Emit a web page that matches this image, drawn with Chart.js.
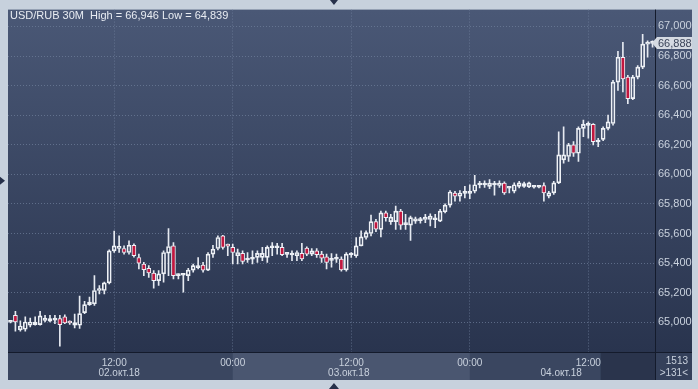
<!DOCTYPE html>
<html lang="ru">
<head>
<meta charset="UTF-8">
<title>USD/RUB 30M</title>
<style>
  html, body { margin: 0; padding: 0; background: #c7d1dd; }
  #wrap { width: 698px; height: 389px; }
</style>
</head>
<body>
<div id="wrap"><canvas id="chart" width="698" height="389"></canvas></div>

<script src="https://cdn.jsdelivr.net/npm/chart.js@4"></script>
<script>
// ---- data (30 min candles, first one 02.10.18 01:30) ----
const symbol = 'USD/RUB 30M';
const dates = ['02.окт.18', '03.окт.18', '04.окт.18'];
const firstCandleMinutes = 90;   // 01:30 on the first day
const stepMinutes = 30;
const barsTotal = '1513';

const open = [
  65000, 65047, 64949, 64953, 64980, 64984, 64984, 65013, 65007, 65015,
  65025, 65036, 65000, 64980, 64980, 65065, 65119, 65125, 65215, 65215,
  65266, 65483, 65500, 65499, 65472, 65521, 65438, 65394, 65365, 65333,
  65282, 65327, 65468, 65517, 65315, 65318, 65315, 65353, 65370, 65387,
  65353, 65461, 65499, 65584, 65517, 65506, 65450, 65466, 65421, 65426,
  65439, 65439, 65439, 65504, 65504, 65506, 65459, 65455, 65450, 65466,
  65501, 65461, 65483, 65461, 65443, 65419, 65426, 65428, 65354, 65455,
  65450, 65517, 65573, 65600, 65680, 65628, 65740, 65680, 65680, 65751,
  65660, 65657, 65684, 65687, 65695, 65695, 65693, 65684, 65747, 65792,
  65874, 65852, 65872, 65872, 65886, 65928, 65928, 65919, 65928, 65926,
  65941, 65906, 65886, 65919, 65919, 65915, 65913, 65913, 65924, 65852,
  65875, 65942, 66098, 66121, 66199, 66143, 66311, 66331, 66338, 66219,
  66237, 66311, 66344, 66624, 66792, 66657, 66512, 66657, 66725, 66881,
  66886
];
const high = [
  65010, 65074, 65010, 65036, 65029, 65036, 65074, 65047, 65047, 65047,
  65047, 65050, 65010, 65056, 65177, 65141, 65170, 65315, 65248, 65271,
  65490, 65617, 65584, 65517, 65550, 65530, 65461, 65405, 65383, 65349,
  65349, 65483, 65633, 65539, 65327, 65327, 65365, 65394, 65438, 65405,
  65472, 65521, 65584, 65588, 65528, 65528, 65495, 65483, 65472, 65483,
  65483, 65506, 65517, 65539, 65533, 65533, 65472, 65483, 65483, 65533,
  65510, 65499, 65499, 65479, 65461, 65465, 65461, 65443, 65472, 65472,
  65573, 65618, 65618, 65725, 65696, 65751, 65751, 65729, 65785, 65763,
  65729, 65718, 65711, 65710, 65729, 65733, 65729, 65763, 65800, 65890,
  65885, 65890, 65919, 65930, 65993, 65953, 65957, 65964, 65953, 65957,
  65950, 65919, 65942, 65953, 65948, 65948, 65926, 65922, 65942, 65886,
  65953, 66288, 66322, 66210, 66221, 66322, 66367, 66355, 66344, 66244,
  66322, 66400, 66635, 66832, 66892, 66669, 66669, 66736, 66946, 66903,
  66903
];
const low = [
  64995, 64940, 64940, 64940, 64969, 64980, 64980, 65002, 65002, 64991,
  64839, 64990, 64985, 64962, 64958, 65058, 65114, 65114, 65192, 65192,
  65260, 65472, 65472, 65461, 65461, 65440, 65360, 65315, 65304, 65230,
  65249, 65271, 65315, 65293, 65293, 65204, 65282, 65338, 65360, 65338,
  65349, 65438, 65490, 65494, 65450, 65394, 65394, 65394, 65405, 65394,
  65405, 65416, 65405, 65450, 65461, 65450, 65439, 65416, 65416, 65416,
  65450, 65450, 65439, 65405, 65360, 65372, 65405, 65345, 65345, 65439,
  65439, 65517, 65562, 65584, 65613, 65577, 65684, 65662, 65628, 65628,
  65628, 65554, 65668, 65670, 65673, 65651, 65640, 65680, 65740, 65778,
  65818, 65818, 65841, 65836, 65874, 65908, 65912, 65903, 65859, 65912,
  65864, 65875, 65875, 65908, 65912, 65910, 65906, 65908, 65819, 65841,
  65864, 65937, 66076, 66087, 66121, 66087, 66255, 66244, 66199, 66188,
  66228, 66300, 66333, 66568, 66557, 66478, 66505, 66646, 66714, 66792,
  66860
];
const close = [
  65005, 65002, 64975, 65002, 65002, 65002, 65043, 65029, 65025, 65018,
  64984, 64995, 64995, 64998, 65058, 65119, 65137, 65215, 65226, 65266,
  65483, 65517, 65510, 65472, 65521, 65450, 65400, 65356, 65333, 65282,
  65327, 65472, 65512, 65315, 65320, 65320, 65353, 65383, 65372, 65353,
  65461, 65494, 65573, 65506, 65515, 65472, 65472, 65412, 65424, 65428,
  65466, 65466, 65506, 65506, 65506, 65457, 65461, 65457, 65472, 65428,
  65461, 65483, 65457, 65434, 65405, 65421, 65428, 65354, 65461, 65457,
  65517, 65577, 65606, 65680, 65629, 65740, 65707, 65711, 65751, 65657,
  65662, 65707, 65700, 65689, 65711, 65718, 65695, 65751, 65792, 65881,
  65852, 65874, 65874, 65874, 65930, 65930, 65930, 65941, 65930, 65941,
  65874, 65908, 65930, 65942, 65937, 65942, 65915, 65915, 65875, 65875,
  65942, 66132, 66132, 66199, 66143, 66311, 66338, 66333, 66221, 66221,
  66311, 66355, 66624, 66792, 66646, 66512, 66657, 66725, 66881, 66888,
  66888
];

// y axis: 65,000 .. 67,000 every 200
const yTickMin = 65000;
const yTickMax = 67000;
const yTickStep = 200;

// ---- derived ----
const pad2 = n => String(n).padStart(2, '0');
const labels = open.map((_, i) => {
  const m = firstCandleMinutes + i * stepMinutes;
  return pad2(Math.floor(m / 60) % 24) + ':' + pad2(m % 60);
});
const dayOf = i => Math.floor((firstCandleMinutes + i * stepMinutes) / 1440);
const isMajor = i => labels[i] === '12:00' || labels[i] === '00:00';
const fmt = v => v.toLocaleString('en-US');

const bodies = open.map((o, i) => [Math.min(o, close[i]), Math.max(o, close[i])]);
const wickUp = open.map((o, i) => [Math.max(o, close[i]), high[i]]);
const wickDown = open.map((o, i) => [low[i], Math.min(o, close[i])]);
const bodyFill = open.map((o, i) => close[i] < o ? '#c2173f' : 'rgba(0,0,0,0)');

const hiAll = Math.max(...high);
const loAll = Math.min(...low);
const last = close[close.length - 1];

const txt = '#c9d1dd';
const grid = 'rgba(112,128,156,0.7)';
const font = 'Liberation Sans';

const panels = {
  id: 'panels',
  beforeDraw(chart) {
    const { ctx, chartArea: a, scales: { x, y } } = chart;
    ctx.save();
    ctx.fillStyle = '#c7d1dd';
    ctx.fillRect(0, 0, chart.width, chart.height);

    const g = ctx.createLinearGradient(0, a.top, 0, a.bottom);
    g.addColorStop(0, '#4a5876');
    g.addColorStop(1, '#29344e');
    ctx.fillStyle = g;
    ctx.fillRect(a.left, a.top, y.right - a.left, a.bottom - a.top);

    // time strip
    ctx.fillStyle = '#3a4660';
    ctx.fillRect(a.left, x.top, a.right - a.left, x.bottom - x.top);
    const d0 = x.getPixelForValue(labels.indexOf('00:00'));
    const d1 = x.getPixelForValue(labels.indexOf('00:00', labels.indexOf('00:00') + 1));
    ctx.fillStyle = '#4a5670';
    ctx.fillRect(d0, x.top, d1 - d0, x.bottom - x.top);
    const s0 = x.getPixelForValue(119.5);
    ctx.fillStyle = '#2a344c';
    ctx.fillRect(s0, x.top, a.right - s0, x.bottom - x.top);
    ctx.fillStyle = '#34405a';
    ctx.fillRect(a.right, x.top, y.right - a.right, x.bottom - x.top);
    ctx.restore();
  },
  afterDraw(chart) {
    const { ctx, chartArea: a, scales: { x, y } } = chart;
    ctx.save();
    // frame lines
    ctx.strokeStyle = '#141b2c';
    ctx.lineWidth = 1;
    ctx.beginPath();
    ctx.moveTo(Math.round(a.right) + 0.5, a.top);
    ctx.lineTo(Math.round(a.right) + 0.5, x.bottom);
    ctx.moveTo(a.left, Math.round(a.bottom) + 0.5);
    ctx.lineTo(y.right, Math.round(a.bottom) + 0.5);
    ctx.stroke();

    // title
    ctx.fillStyle = '#e8ecf2';
    ctx.font = '11px "' + font + '"';
    ctx.textBaseline = 'middle';
    ctx.textAlign = 'left';
    ctx.fillText(symbol + '  High = ' + fmt(hiAll) + ' Low = ' + fmt(loAll), a.left + 2, a.top + 6);

    // date under each day, centred on the visible part of that day
    ctx.fillStyle = txt;
    ctx.font = '10px "' + font + '"';
    ctx.textAlign = 'center';
    dates.forEach((d, k) => {
      const idx = labels.map((_, i) => i).filter(i => dayOf(i) === k);
      if (!idx.length) return;
      const l = Math.max(a.left, x.getPixelForValue(idx[0] - 0.5));
      const r = Math.min(a.right, x.getPixelForValue(idx[idx.length - 1] + 0.5));
      ctx.fillText(d, (l + r) / 2, x.top + 21);
    });

    // last price marker
    const py = Math.round(y.getPixelForValue(last));
    const bx = Math.round(a.right) + 2;
    ctx.fillStyle = '#d5dae2';
    ctx.beginPath();
    ctx.moveTo(bx - 5, py);
    ctx.lineTo(bx, py - 6);
    ctx.lineTo(y.right, py - 6);
    ctx.lineTo(y.right, py + 6);
    ctx.lineTo(bx, py + 6);
    ctx.closePath();
    ctx.fill();
    ctx.fillStyle = '#3b4459';
    ctx.font = '11px "' + font + '"';
    ctx.textAlign = 'left';
    ctx.fillText(fmt(last), bx + 1, py + 1);

    // counters in the corner
    ctx.fillStyle = txt;
    ctx.font = '10px "' + font + '"';
    ctx.textAlign = 'right';
    ctx.fillText(barsTotal, y.right - 4, x.top + 9);
    ctx.fillText('>' + open.length + '<', y.right - 4, x.top + 21);

    // scroll markers
    ctx.fillStyle = '#26304a';
    const cx = x.getPixelForValue(labels.length / 2);
    ctx.beginPath();
    ctx.moveTo(cx - 4, 0); ctx.lineTo(cx + 4, 0); ctx.lineTo(cx, 5); ctx.closePath();
    ctx.moveTo(cx - 5, chart.height); ctx.lineTo(cx + 5, chart.height); ctx.lineTo(cx, chart.height - 6); ctx.closePath();
    const my = (a.top + a.bottom) / 2;
    ctx.moveTo(0, my - 4); ctx.lineTo(0, my + 4); ctx.lineTo(5, my); ctx.closePath();
    ctx.fill();
    ctx.restore();
  }
};

new Chart(document.getElementById('chart'), {
  type: 'bar',
  data: {
    labels: labels,
    datasets: [
      {
        label: 'body',
        data: bodies,
        backgroundColor: bodyFill,
        borderColor: '#eef1f6',
        borderWidth: 1,
        borderSkipped: false,
        barThickness: 4,
        minBarLength: 2,
        grouped: false
      },
      {
        label: 'wick up',
        data: wickUp,
        backgroundColor: '#e6eaf1',
        borderWidth: 0,
        barThickness: 1,
        grouped: false
      },
      {
        label: 'wick down',
        data: wickDown,
        backgroundColor: '#e6eaf1',
        borderWidth: 0,
        barThickness: 1,
        grouped: false
      }
    ]
  },
  options: {
    responsive: false,
    animation: false,
    devicePixelRatio: 1,
    layout: { padding: { left: 8, top: 7, right: 6, bottom: 9 } },
    plugins: { legend: { display: false }, tooltip: { enabled: false } },
    scales: {
      x: {
        offset: true,
        grid: {
          offset: false,
          drawTicks: false,
          color: c => isMajor(c.index) ? grid : 'rgba(0,0,0,0)'
        },
        border: { display: false, dash: [1, 2] },
        ticks: {
          autoSkip: false,
          maxRotation: 0,
          padding: 5,
          color: txt,
          font: { family: font, size: 10 },
          callback: (v, i) => isMajor(i) ? labels[i] : ''
        },
        afterFit: s => { s.height = 28; }
      },
      y: {
        position: 'right',
        min: 64799,
        max: 67114,
        grid: { drawTicks: false, color: grid },
        border: { display: false, dash: [1, 2] },
        ticks: {
          padding: 3,
          color: txt,
          font: { family: font, size: 11 },
          callback: v => fmt(v)
        },
        afterBuildTicks: s => {
          const t = [];
          for (let v = yTickMin; v <= yTickMax; v += yTickStep) t.push({ value: v });
          s.ticks = t;
        },
        afterFit: s => { s.width = 37; }
      }
    }
  },
  plugins: [panels]
});
</script>
</body>
</html>
